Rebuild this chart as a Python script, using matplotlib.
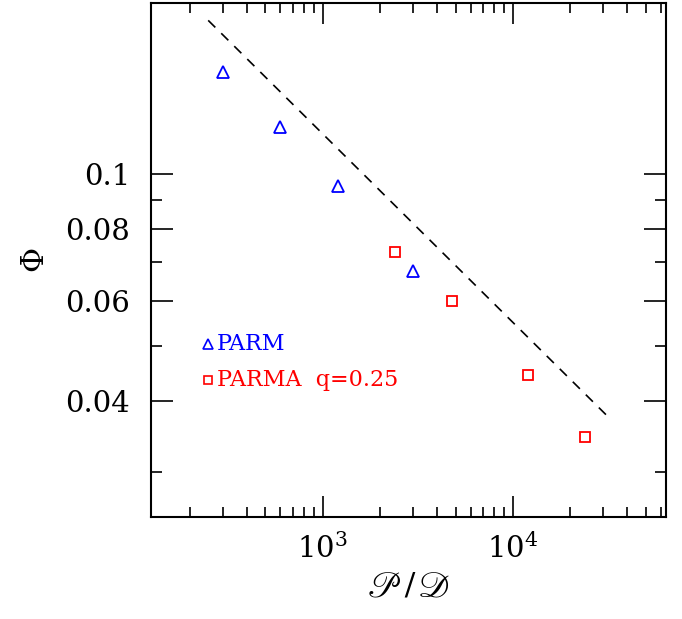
import matplotlib
matplotlib.use('Agg')
import matplotlib.pyplot as plt
from matplotlib.ticker import FixedLocator, NullFormatter, LogLocator, LogFormatterMathtext

# data
parm_x = [300, 600, 1200, 3000]
parm_phi = [0.151, 0.121, 0.0953, 0.0677]
parma_x = [2400, 4800, 12000, 24000]
parma_phi = [0.0731, 0.0598, 0.0444, 0.0346]
# dashed power-law guide (slope about -1/3)
guide_x = [250, 32000]
guide_phi = [0.1864, 0.0374]

y_major = [0.04, 0.06, 0.08, 0.1]
y_major_labels = ['0.04', '0.06', '0.08', '0.1']
y_minor = [0.03, 0.05, 0.07, 0.09]

plt.rcParams['font.family'] = ['DejaVu Serif']
plt.rcParams['mathtext.fontset'] = 'dejavuserif'
plt.rcParams['axes.formatter.use_mathtext'] = True

fig = plt.figure(figsize=(6.82, 6.19), dpi=100)
ax = fig.add_axes([0.2214, 0.1648, 0.7551, 0.8304])
ax.set_xscale('log')
ax.set_yscale('log')

ax.plot(guide_x, guide_phi, color='black', ls=(0, (6, 5)), lw=1.2)
ax.plot(parm_x, parm_phi, ls='none', marker='^', ms=8, mfc='none', mec='blue', mew=1.3)
ax.plot(parma_x, parma_phi, ls='none', marker='s', ms=6.5, mfc='none', mec='red', mew=1.3)

ax.set_xlim(125, 64000)
ax.set_ylim(0.025, 0.2)

ax.xaxis.set_major_locator(LogLocator(base=10))
ax.xaxis.set_major_formatter(LogFormatterMathtext())
ax.xaxis.set_minor_locator(LogLocator(base=10, subs=range(2, 10)))
ax.xaxis.set_minor_formatter(NullFormatter())
ax.yaxis.set_major_locator(FixedLocator(y_major))
ax.set_yticklabels(y_major_labels)
ax.yaxis.set_minor_locator(FixedLocator(y_minor))
ax.yaxis.set_minor_formatter(NullFormatter())

ax.tick_params(which='both', direction='in', top=True, right=True, width=1.2, labelsize=21)
ax.tick_params(axis='y', which='major', length=16, pad=15)
ax.tick_params(axis='y', which='minor', length=8)
ax.tick_params(axis='x', which='major', length=15, pad=12)
ax.tick_params(axis='x', which='minor', length=7.5)
for s in ax.spines.values():
    s.set_linewidth(1.5)

ax.set_xlabel(r'$\mathscr{P}\,/\,\mathscr{D}$', fontsize=26, labelpad=4, math_fontfamily='stix')
ax.set_ylabel(r'$\Phi$', fontsize=22, labelpad=10)

# legend drawn by hand like the original
ax.plot([0.111], [0.337], transform=ax.transAxes, marker='^', ms=7, mfc='none', mec='blue', mew=1.2, ls='none')
ax.text(0.128, 0.337, 'PARM', transform=ax.transAxes, color='blue', fontsize=16, va='center')
ax.plot([0.111], [0.267], transform=ax.transAxes, marker='s', ms=6, mfc='none', mec='red', mew=1.2, ls='none')
ax.text(0.128, 0.267, 'PARMA  q=0.25', transform=ax.transAxes, color='red', fontsize=16, va='center')

fig.savefig('out.png', dpi=100)
